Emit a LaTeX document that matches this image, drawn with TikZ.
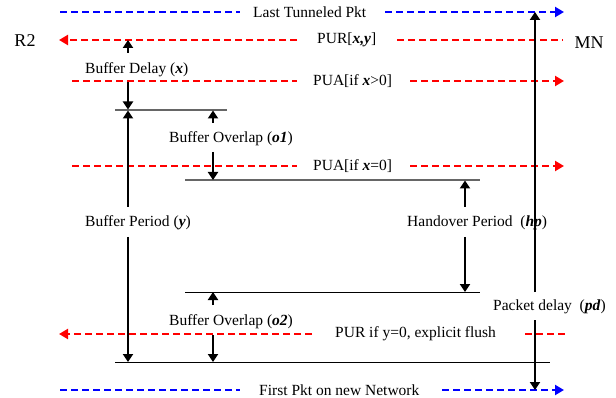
\documentclass[tikz,border=0pt]{standalone}
\usepackage{fontspec}
\setmainfont{Liberation Serif}
\usetikzlibrary{arrows.meta}
\newcommand{\bi}[1]{\textbf{\textit{#1}}}
\begin{document}
\begin{tikzpicture}[x=1pt,y=-1pt,
  lbl/.style={font=\fontsize{15.5}{18}\selectfont, inner sep=0pt, anchor=west},
  side/.style={font=\fontsize{18}{21}\selectfont, inner sep=0pt},
  rdash/.style={draw=red, line width=2.2pt, dash pattern=on 7pt off 4pt},
  bdash/.style={draw=blue, line width=2.2pt, dash pattern=on 7pt off 4pt},
  tip/.style={-{Triangle[length=9pt,width=10pt]}},
  bar/.style={line width=2.3pt, -{Triangle[length=8pt,width=10pt]}},
  thinrule/.style={line width=1pt, draw=black},
  greyrule/.style={line width=1.2pt, draw=black!60},
]
\useasboundingbox (0,0) rectangle (616,398);

% side labels
\node[side] (r2) at (25,41) {R2};
\node[side] (mn) at (589,43) {MN};

% top blue
\coordinate (bt0) at (60,12); \coordinate (bt1) at (240,12);
\node[lbl] (lt) at (253,12) {Last Tunneled Pkt};
\coordinate (bt2) at (385,12); \coordinate (bt3) at (564,12);
\draw[bdash] (bt0) -- (bt1);
\draw[bdash,tip] (bt2) -- (bt3);

% PUR[x,y]
\coordinate (r10) at (59,40); \coordinate (r11) at (297,40);
\node[lbl] (pur1) at (317,40) {PUR[\bi{x,y}]};
\coordinate (r12) at (397,40); \coordinate (r13) at (563,40);
\draw[rdash,tip] (r11) -- (r10);
\draw[rdash] (r12) -- (r13);

% PUA x>0
\coordinate (r20) at (72,81); \coordinate (r21) at (297,81);
\node[lbl] (pua1) at (313,81) {PUA[if \bi{x}>0]};
\coordinate (r22) at (410,81); \coordinate (r23) at (564,81);
\draw[rdash] (r20) -- (r21);
\draw[rdash,tip] (r22) -- (r23);

% PUA x=0
\coordinate (r30) at (72,166); \coordinate (r31) at (297,166);
\node[lbl] (pua2) at (313,166) {PUA[if \bi{x}=0]};
\coordinate (r32) at (410,166); \coordinate (r33) at (564,166);
\draw[rdash] (r30) -- (r31);
\draw[rdash,tip] (r32) -- (r33);

% PUR if y=0
\coordinate (r40) at (59,334); \coordinate (r41) at (312,334);
\node[lbl] (pur2) at (335,334) {PUR if y=0, explicit flush};
\coordinate (r42) at (525,334); \coordinate (r43) at (565,334);
\draw[rdash,tip] (r41) -- (r40);
\draw[rdash] (r42) -- (r43);

% bottom blue
\coordinate (bb0) at (60,390); \coordinate (bb1) at (240,390);
\node[lbl] (fp) at (259,390) {First Pkt on new Network};
\coordinate (bb2) at (442,390); \coordinate (bb3) at (564,390);
\draw[bdash] (bb0) -- (bb1);
\draw[bdash,tip] (bb2) -- (bb3);

% horizontal rules
\coordinate (h1a) at (115,110); \coordinate (h1b) at (227,110);
\coordinate (h2a) at (185,180); \coordinate (h2b) at (480,180);
\coordinate (h3a) at (185,292); \coordinate (h3b) at (480,292);
\coordinate (h4a) at (115,362); \coordinate (h4b) at (550,362);
\draw[greyrule] (h1a) -- (h1b);
\draw[greyrule] (h2a) -- (h2b);
\draw[thinrule] (h3a) -- (h3b);
\draw[thinrule] (h4a) -- (h4b);

% labels
\node[lbl] (bd) at (85,70) {Buffer Delay (\bi{x})};
\node[lbl] (bo1) at (169,139) {Buffer Overlap (\bi{o1})};
\node[lbl] (bp) at (85,223) {Buffer Period (\bi{y})};
\node[lbl] (hp) at (407,223) {Handover Period\ \ (\bi{hp})};
\node[lbl] (bo2) at (169,322) {Buffer Overlap (\bi{o2})};
\node[lbl] (pd) at (493,307) {Packet delay\ \ (\bi{pd})};

% buffer delay arrows
\coordinate (v1a) at (128,53); \coordinate (v1b) at (128,40);
\coordinate (v2a) at (128,82); \coordinate (v2b) at (128,109.5);
\draw[bar] (v1a) -- (v1b);
\draw[bar] (v2a) -- (v2b);

% buffer period arrows
\coordinate (v3a) at (128,207); \coordinate (v3b) at (128,110.5);
\coordinate (v4a) at (128,237); \coordinate (v4b) at (128,362);
\draw[bar] (v3a) -- (v3b);
\draw[bar] (v4a) -- (v4b);

% buffer overlap arrows
\coordinate (o1a) at (213,123); \coordinate (o1b) at (213,110.5);
\coordinate (o2a) at (213,152); \coordinate (o2b) at (213,180);
\coordinate (o3a) at (213,305); \coordinate (o3b) at (213,292);
\coordinate (o4a) at (213,335); \coordinate (o4b) at (213,362);
\draw[bar] (o1a) -- (o1b);
\draw[bar] (o2a) -- (o2b);
\draw[bar] (o3a) -- (o3b);
\draw[bar] (o4a) -- (o4b);

% handover period arrows
\coordinate (ha) at (465,207); \coordinate (hb) at (465,180.5);
\coordinate (hc) at (465,237); \coordinate (hd) at (465,292);
\draw[bar] (ha) -- (hb);
\draw[bar] (hc) -- (hd);

% packet delay arrows
\coordinate (pa) at (535,292); \coordinate (pb) at (535,12);
\coordinate (pc) at (535,320); \coordinate (pe) at (535,390);
\draw[bar] (pa) -- (pb);
\draw[bar] (pc) -- (pe);
\end{tikzpicture}
\end{document}
